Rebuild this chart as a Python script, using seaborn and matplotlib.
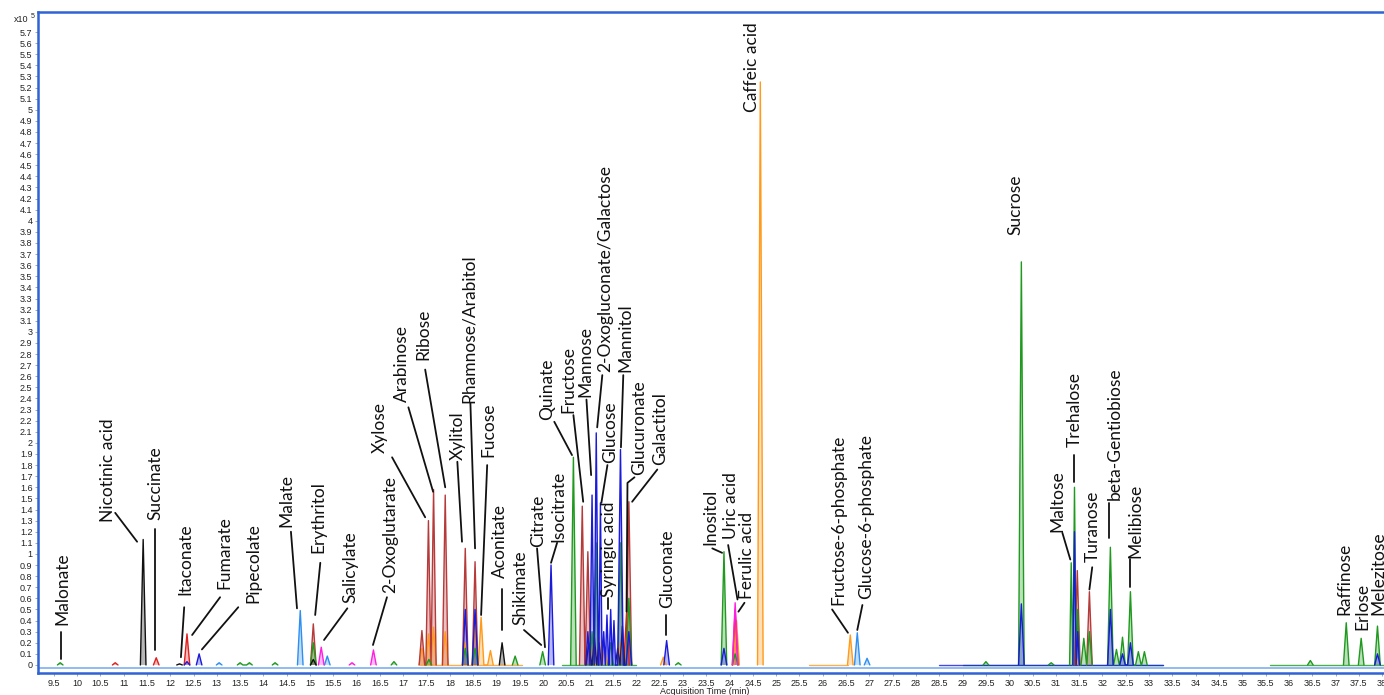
import numpy as np
import pandas as pd
import matplotlib
matplotlib.use("Agg")
import matplotlib.pyplot as plt
import seaborn as sns

# peaks per trace: (retention time in min, height in x10^5 counts)
orange = [(17.40, 0.15), (17.54, 0.28), (17.65, 0.34), (17.90, 0.30), (18.33, 0.20), (18.54, 0.40),
          (18.67, 0.43), (18.87, 0.13), (20.96, 0.25), (21.05, 0.18), (21.20, 0.25), (21.32, 0.15),
          (21.66, 0.20), (22.58, 0.07), (24.15, 0.40), (24.66, 5.25), (26.59, 0.27), (31.42, 0.10)]
brick = [(15.07, 0.37), (17.40, 0.31), (17.54, 1.30), (17.65, 1.58), (17.90, 1.53), (18.33, 1.05),
         (18.54, 0.93), (20.84, 1.43), (20.96, 1.02), (21.84, 1.47), (31.46, 0.85), (31.72, 0.66)]
red = [(10.82, 0.02), (11.70, 0.065), (12.36, 0.28), (21.79, 0.47), (24.12, 0.50)]
green = [(9.64, 0.02), (13.50, 0.02), (13.70, 0.02), (14.25, 0.02), (15.07, 0.20), (16.80, 0.03),
         (17.55, 0.05), (18.33, 0.15), (18.54, 0.15), (19.40, 0.08), (19.99, 0.12), (20.65, 1.87),
         (21.05, 0.30), (21.14, 1.10), (21.45, 0.20), (21.66, 1.10), (21.84, 0.60), (22.90, 0.02),
         (23.88, 1.02), (24.12, 0.10), (29.50, 0.03), (30.26, 3.63), (30.90, 0.02), (31.33, 0.92),
         (31.40, 1.60), (31.47, 0.50), (31.60, 0.24), (31.72, 0.30), (32.17, 1.06), (32.30, 0.14),
         (32.43, 0.25), (32.60, 0.66), (32.77, 0.12), (32.90, 0.12), (36.46, 0.04), (37.23, 0.38),
         (37.55, 0.24), (37.90, 0.35)]
lightblue = [(13.05, 0.02), (14.79, 0.49), (15.37, 0.08), (26.74, 0.29), (26.95, 0.06)]
magenta = [(15.24, 0.16), (15.90, 0.02), (16.36, 0.135), (24.12, 0.56)]
black = [(11.42, 1.13), (12.20, 0.01), (15.07, 0.05), (19.12, 0.20)]
navy = [(20.98, 0.20), (21.10, 0.25), (21.20, 0.20), (21.60, 0.15), (21.70, 0.35)]
blue = [(12.36, 0.03), (12.62, 0.10), (18.33, 0.50), (18.54, 0.50), (20.17, 0.90), (20.96, 0.30),
        (21.05, 1.53), (21.14, 2.09), (21.23, 1.46), (21.30, 0.30), (21.37, 0.45), (21.45, 0.50),
        (21.52, 0.40), (21.66, 1.94), (21.84, 0.30), (22.65, 0.22), (23.88, 0.15), (30.26, 0.55),
        (31.40, 1.20), (31.47, 0.30), (32.17, 0.50), (32.43, 0.10), (32.60, 0.20), (37.90, 0.10)]

# stretches where a trace's baseline shows above the common one: (trace, start, end)
baselines = [("orange", 17.35, 19.55), ("orange", 25.70, 26.55), ("green", 20.40, 22.00),
             ("green", 29.00, 33.30), ("blue", 28.50, 33.30), ("green", 35.60, 38.04)]

traces = {"orange": orange, "brick": brick, "red": red, "green": green, "lightblue": lightblue,
          "magenta": magenta, "black": black, "navy": navy, "blue": blue}
colors = {"orange": "#ff9a1a", "brick": "#b73a3a", "red": "#e0201e", "green": "#1f9a1f",
          "lightblue": "#2f8ff0", "magenta": "#ff1fe0", "black": "#111111", "navy": "#23186e",
          "blue": "#1a1adb"}

# compound labels: name, text x, text bottom y, leader line points
labels = [
    ("Malonate", 9.68, 0.36, [(9.66, 0.30), (9.66, 0.05)]),
    ("Nicotinic acid", 10.67, 1.29, [(10.82, 1.37), (11.29, 1.11)]),
    ("Succinate", 11.68, 1.31, [(11.68, 1.22), (11.68, 0.135)]),
    ("Itaconate", 12.32, 0.63, [(12.30, 0.52), (12.23, 0.07)]),
    ("Fumarate", 13.16, 0.68, [(13.07, 0.61), (12.47, 0.27)]),
    ("Pipecolate", 13.78, 0.56, [(13.46, 0.52), (12.68, 0.14)]),
    ("Malate", 14.49, 1.24, [(14.59, 1.20), (14.72, 0.51)]),
    ("Erythritol", 15.17, 1.01, [(15.22, 0.92), (15.11, 0.45)]),
    ("Salicylate", 15.86, 0.56, [(15.80, 0.51), (15.30, 0.225)]),
    ("2-Oxoglutarate", 16.72, 0.65, [(16.65, 0.61), (16.35, 0.18)]),
    ("Xylose", 16.50, 1.91, [(16.76, 1.87), (17.47, 1.33)]),
    ("Arabinose", 16.98, 2.37, [(17.11, 2.32), (17.64, 1.56)]),
    ("Ribose", 17.43, 2.75, [(17.47, 2.66), (17.90, 1.60)]),
    ("Xylitol", 18.16, 1.85, [(18.16, 1.83), (18.26, 1.11)]),
    ("Rhamnose/Arabitol", 18.41, 2.36, [(18.44, 2.36), (18.54, 1.05)]),
    ("Fucose", 18.82, 1.87, [(18.80, 1.80), (18.67, 0.45)]),
    ("Aconitate", 19.08, 0.78, [(19.12, 0.68), (19.12, 0.315)]),
    ("Shikimate", 19.51, 0.36, [(19.59, 0.315), (19.96, 0.18)]),
    ("Citrate", 19.89, 1.06, [(19.87, 1.05), (20.04, 0.16)]),
    ("Isocitrate", 20.33, 1.11, [(20.30, 1.10), (20.17, 0.92)]),
    ("Quinate", 20.09, 2.21, [(20.24, 2.19), (20.62, 1.89)]),
    ("Fructose", 20.54, 2.27, [(20.65, 2.25), (20.86, 1.47)]),
    ("Mannose", 20.90, 2.41, [(20.93, 2.39), (21.03, 1.71)]),
    ("2-Oxogluconate/Galactose", 21.33, 2.64, [(21.27, 2.61), (21.16, 2.14)]),
    ("Glucose", 21.44, 1.82, [(21.38, 1.80), (21.25, 1.46)]),
    ("Syringic acid", 21.42, 0.61, [(21.40, 0.60), (21.40, 0.50)]),
    ("Mannitol", 21.76, 2.64, [(21.72, 2.61), (21.67, 1.96)]),
    ("Glucuronate", 22.07, 1.71, [(21.96, 1.69), (21.81, 1.64), (21.79, 0.48)]),
    ("Galactitol", 22.51, 1.80, [(22.45, 1.76), (21.91, 1.47)]),
    ("Gluconate", 22.66, 0.51, [(22.64, 0.45), (22.64, 0.27)]),
    ("Inositol", 23.58, 1.08, [(23.63, 1.05), (23.84, 1.01)]),
    ("Uric acid", 24.04, 1.13, [(23.97, 1.08), (24.17, 0.59)]),
    ("Ferulic acid", 24.38, 0.59, [(24.32, 0.56), (24.19, 0.48)]),
    ("Caffeic acid", 24.49, 4.98, []),
    ("Fructose-6-phosphate", 26.33, 0.54, [(26.20, 0.50), (26.54, 0.29)]),
    ("Glucose-6-phosphate", 26.93, 0.59, [(26.85, 0.54), (26.74, 0.315)]),
    ("Sucrose", 30.13, 3.87, []),
    ("Maltose", 31.03, 1.20, [(31.14, 1.19), (31.31, 0.95)]),
    ("Trehalose", 31.40, 1.96, [(31.40, 1.89), (31.40, 1.65)]),
    ("Turanose", 31.80, 0.93, [(31.78, 0.88), (31.72, 0.68)]),
    ("beta-Gentiobiose", 32.27, 1.49, [(32.14, 1.46), (32.14, 1.14)]),
    ("Melibiose", 32.70, 0.96, [(32.60, 0.95), (32.60, 0.70)]),
    ("Raffinose", 37.19, 0.45, []),
    ("Erlose", 37.58, 0.315, []),
    ("Melezitose", 37.92, 0.45, []),
]

HALF_W = 0.06   # peak half width (min)
GAP = 0.2       # peaks closer than this share one trace piece


def build_trace(name, peaks):
    peaks = sorted(peaks)
    rows = []
    seg = 0
    for i, (t, h) in enumerate(peaks):
        w = HALF_W
        if i > 0:
            w = min(w, (t - peaks[i - 1][0]) / 2)
            if t - peaks[i - 1][0] > GAP:
                seg += 1
        if i < len(peaks) - 1:
            w = min(w, (peaks[i + 1][0] - t) / 2)
        for x, y in ((t - w, 0.0), (t, h), (t + w, 0.0)):
            rows.append({"trace": name, "seg": f"{name}{seg}", "time": x, "signal": y})
    return rows


df = pd.DataFrame([r for name, pk in traces.items() for r in build_trace(name, pk)])

sns.set_style("white")
plt.rcParams["font.family"] = ["Liberation Sans", "DejaVu Sans"]

fig = plt.figure(figsize=(13.84, 6.95), dpi=100)
ax = fig.add_axes([0.0275, 0.0317, 0.9725, 0.951])

frame = "#2f63d6"
ax.axhline(-0.027, color="#86b6f2", lw=1.3, zorder=1)

for name, start, end in baselines:
    ax.plot([start, end], [0.004, 0.004], color=colors[name], lw=1.0, alpha=0.8, zorder=1.5)

for name in traces:
    sub = df[df.trace == name]
    for seg, s in sub.groupby("seg"):
        ax.fill(s.time, s.signal, color=colors[name], alpha=0.3, lw=0, zorder=2)
    sns.lineplot(data=sub, x="time", y="signal", units="seg", estimator=None, sort=False,
                 color=colors[name], lw=1.0, ax=ax, zorder=3)

for name, tx, ty, pts in labels:
    ax.text(tx, ty, name, rotation=90, ha="center", va="bottom", fontsize=12.5,
            family=["Lato", "DejaVu Sans"], color="#111111", zorder=5)
    if pts:
        xs, ys = zip(*pts)
        ax.plot(xs, ys, color="#111111", lw=1.3, zorder=5)

ax.set_xlim(9.165, 38.04)
ax.set_ylim(-0.072, 5.88)

yt = np.round(np.arange(0, 5.71, 0.1), 1)
ax.set_yticks(yt)
ax.set_yticklabels([f"{v:.1f}".rstrip("0").rstrip(".") for v in yt])
xt = np.arange(9.5, 38.01, 0.5)
ax.set_xticks(xt)
ax.set_xticklabels([f"{v:.1f}".rstrip("0").rstrip(".") for v in xt])
ax.tick_params(axis="both", labelsize=6.5, length=2.5, width=0.6, color="#999999",
               pad=1.5, labelcolor="#222222", left=True, bottom=True)
ax.set_xlabel("")
ax.set_ylabel("")

for side in ["left", "top", "bottom"]:
    ax.spines[side].set_color(frame)
    ax.spines[side].set_linewidth(1.8)
ax.spines["right"].set_visible(False)

fig.text(14 / 1384, 1 - 19 / 695, "x10", fontsize=6.5, color="#222222", va="center")
fig.text(31 / 1384, 1 - 16 / 695, "5", fontsize=5, color="#222222", va="center")
fig.text(705 / 1384, 1 - 687 / 695, "Acquisition Time (min)", fontsize=6.5,
         color="#222222", ha="center", va="top")

fig.savefig("out.png", dpi=100)
